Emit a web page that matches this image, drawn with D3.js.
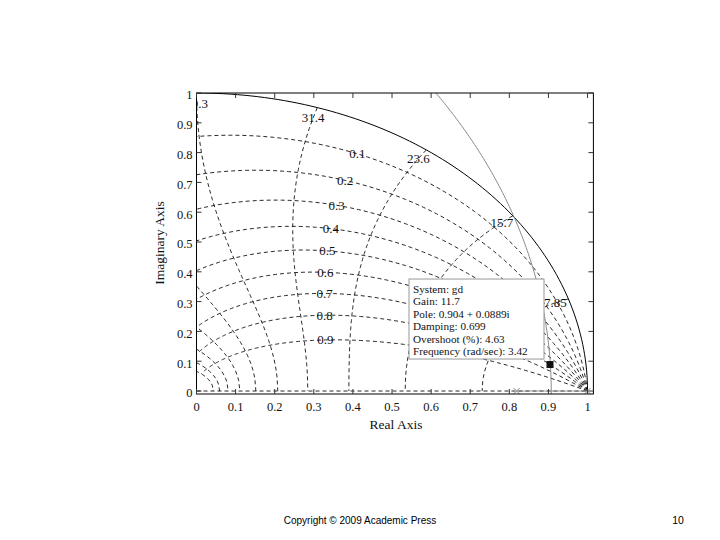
<!DOCTYPE html>
<html>
<head>
<meta charset="utf-8">
<script src="https://cdn.jsdelivr.net/npm/d3@7"></script>
<style>
  body { margin: 0; background: #fff; }
  svg { display: block; }
</style>
</head>
<body>
<script>
// z-plane root locus of gd with damping / natural frequency grid (T = 0.04 s)
var T = 0.04;
var poles = [1, 0.8187];
var zeros = [-0.9355];
var zetaVals = [0.1, 0.2, 0.3, 0.4, 0.5, 0.6, 0.7, 0.8, 0.9];
var wnSteps = [1, 2, 3, 4, 5, 6, 7, 8, 9, 10];   // wn = k*pi/(10T)
var xTicks = [0, 0.1, 0.2, 0.3, 0.4, 0.5, 0.6, 0.7, 0.8, 0.9, 1];
var yTicks = [0, 0.1, 0.2, 0.3, 0.4, 0.5, 0.6, 0.7, 0.8, 0.9, 1];
var tipPole = [0.904, 0.0889];
var tipLines = ["System: gd", "Gain: 11.7", "Pole: 0.904 + 0.0889i", "Damping: 0.699",
                "Overshoot (%): 4.63", "Frequency (rad/sec): 3.42"];

var W = 720, H = 540;
var svg = d3.select('body').append('svg').attr('width', W).attr('height', H);

var x = d3.scaleLinear().domain([0, 1.015]).range([196.5, 593.4]);
var y = d3.scaleLinear().domain([-0.01, 1]).range([394, 93]);
var L = x.range()[0], R = x.range()[1], Tp = y.range()[1], B = y.range()[0];

svg.append('defs').append('clipPath').attr('id', 'clip')
   .append('rect').attr('x', L).attr('y', Tp).attr('width', R - L).attr('height', B - Tp);

var plot = svg.append('g').attr('clip-path', 'url(#clip)');
var line = d3.line().x(function (d) { return x(d[0]); }).y(function (d) { return y(d[1]); });

function zpt(zeta, wt) {   // point of z = exp(s T)
  var r = Math.exp(-zeta * wt), a = wt * Math.sqrt(1 - zeta * zeta);
  return [r * Math.cos(a), r * Math.sin(a)];
}

var dashStyle = function (sel) {
  sel.attr('fill', 'none').attr('stroke', '#111').attr('stroke-width', 0.9)
     .attr('stroke-dasharray', '4,3');
};

// constant damping spirals
zetaVals.forEach(function (z) {
  var pts = d3.range(0, 201).map(function (i) { return zpt(z, Math.PI * i / 200); });
  plot.append('path').attr('d', line(pts)).call(dashStyle);
});
// constant natural frequency curves
wnSteps.forEach(function (k) {
  var wt = k * Math.PI / 10;
  var pts = d3.range(0, 101).map(function (i) { return zpt(i / 100, wt); });
  plot.append('path').attr('d', line(pts)).call(dashStyle);
});
// zeta = 1 along the real axis
plot.append('path').attr('d', line([[0, 0], [1, 0]])).call(dashStyle);

// unit circle
plot.append('path')
    .attr('d', line(d3.range(0, 181).map(function (i) {
      var a = Math.PI * i / 180; return [Math.cos(a), Math.sin(a)];
    })))
    .attr('fill', 'none').attr('stroke', '#000').attr('stroke-width', 1);

// grid labels
var gl = plot.append('g').attr('font-family', 'Liberation Serif').attr('font-size', 13)
    .attr('text-anchor', 'middle').attr('fill', '#111');
zetaVals.forEach(function (z) {
  var p = zpt(z, 0.35 * Math.PI);
  gl.append('text').attr('x', x(p[0])).attr('y', y(p[1])).attr('dy', '0.35em').text(z);
});
wnSteps.filter(function (k) { return k <= 5; }).forEach(function (k) {
  var a = k * Math.PI / 10;
  gl.append('text').attr('x', x(0.965 * Math.cos(a))).attr('y', y(0.965 * Math.sin(a)))
    .attr('dy', '0.35em').text(d3.format('.3')(k * Math.PI / (10 * T)));
});

// root locus: den(z) + K num(z) = 0
var s = poles[0] + poles[1], pr = poles[0] * poles[1], z0 = zeros[0];
var bq = 4 * z0 - 2 * s, cq = s * s - 4 * pr;
var Kb = (-bq - Math.sqrt(bq * bq - 4 * cq)) / 2;
var Ks = d3.range(0, 301).map(function (i) { return Kb * i / 300; })
  .concat(d3.range(1, 601).map(function (i) { return Kb + Math.pow(i / 600, 2) * 20; }));
var upper = [], lower = [];
Ks.forEach(function (K) {
  var b = K - s, c = pr - K * z0, D = b * b - 4 * c;
  if (D >= 0) {
    upper.push([(-b + Math.sqrt(D)) / 2, 0]);
    lower.push([(-b - Math.sqrt(D)) / 2, 0]);
  } else {
    upper.push([-b / 2, Math.sqrt(-D) / 2]);
    lower.push([-b / 2, -Math.sqrt(-D) / 2]);
  }
});
[upper, lower].forEach(function (br) {
  plot.append('path').attr('d', line(br)).attr('fill', 'none')
      .attr('stroke', '#8a8a8a').attr('stroke-width', 1);
});
poles.forEach(function (p) {
  plot.append('path').attr('transform', 'translate(' + x(p) + ',' + y(0) + ')')
      .attr('d', 'M-3,-3L3,3M-3,3L3,-3').attr('stroke', '#8a8a8a').attr('stroke-width', 1);
});

// frame and ticks
var ax = svg.append('g');
ax.append('rect').attr('x', L).attr('y', Tp).attr('width', R - L).attr('height', B - Tp)
  .attr('fill', 'none').attr('stroke', '#000').attr('stroke-width', 1);
xTicks.forEach(function (t) {
  ax.append('line').attr('x1', x(t)).attr('x2', x(t)).attr('y1', B).attr('y2', B - 5).attr('stroke', '#333');
  ax.append('line').attr('x1', x(t)).attr('x2', x(t)).attr('y1', Tp).attr('y2', Tp + 5).attr('stroke', '#333');
});
yTicks.forEach(function (t) {
  ax.append('line').attr('y1', y(t)).attr('y2', y(t)).attr('x1', L).attr('x2', L + 5).attr('stroke', '#333');
  ax.append('line').attr('y1', y(t)).attr('y2', y(t)).attr('x1', R).attr('x2', R - 5).attr('stroke', '#333');
});
var lbl = svg.append('g').attr('font-family', 'Liberation Serif').attr('font-size', 12.5).attr('fill', '#111');
xTicks.forEach(function (t) {
  lbl.append('text').attr('x', x(t)).attr('y', B + 17).attr('text-anchor', 'middle').text(d3.format('~g')(t));
});
yTicks.forEach(function (t) {
  lbl.append('text').attr('x', L - 4).attr('y', y(t) + 2).attr('dy', '0.35em').attr('text-anchor', 'end')
     .text(d3.format('~g')(t));
});
lbl.append('text').attr('x', 396).attr('y', 429).attr('text-anchor', 'middle').attr('font-size', 13.5).text('Real Axis');
lbl.append('text').attr('transform', 'translate(164,243) rotate(-90)').attr('text-anchor', 'middle')
   .attr('font-size', 13.5).text('Imaginary Axis');

// data tip
var px = x(tipPole[0]), py = y(tipPole[1]);
svg.append('rect').attr('x', px - 141).attr('y', py - 85.5).attr('width', 135).attr('height', 80)
   .attr('fill', '#fff').attr('stroke', '#999').attr('stroke-width', 1);
svg.append('rect').attr('x', px - 3.5).attr('y', py - 3.5).attr('width', 7).attr('height', 7).attr('fill', '#111');
var tip = svg.append('g').attr('font-family', 'Liberation Serif').attr('font-size', 11.2).attr('fill', '#111');
tipLines.forEach(function (t, i) {
  tip.append('text').attr('x', px - 137).attr('y', py - 75.5 + i * 12.4).attr('dy', '0.35em').text(t);
});

// page footer
svg.append('text').attr('x', 360).attr('y', 524).attr('text-anchor', 'middle')
   .attr('font-family', 'Liberation Sans').attr('font-size', 10).text('Copyright © 2009 Academic Press');
svg.append('text').attr('x', 678).attr('y', 524).attr('text-anchor', 'middle')
   .attr('font-family', 'Liberation Sans').attr('font-size', 10.5).text('10');
</script>
</body>
</html>
